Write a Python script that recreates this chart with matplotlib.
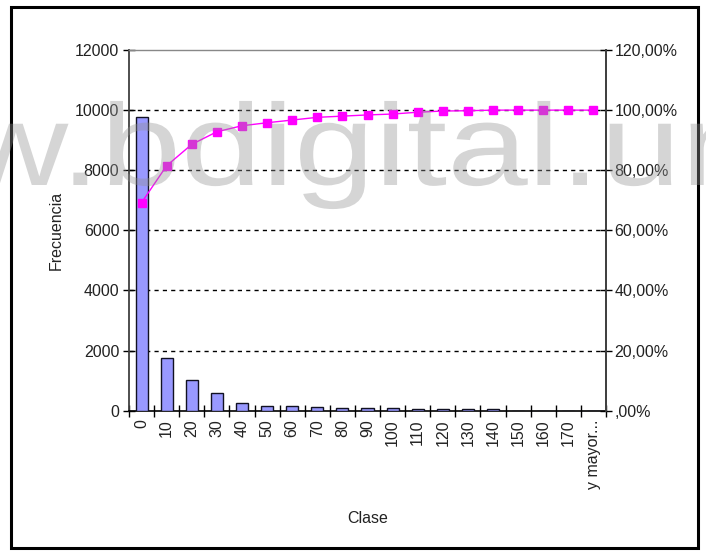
import matplotlib
matplotlib.use('Agg')
import matplotlib.pyplot as plt
import matplotlib.patches as mpatches
from matplotlib.textpath import TextPath
from matplotlib.font_manager import FontProperties
from matplotlib.transforms import Affine2D, IdentityTransform
import numpy as np

plt.rcParams['font.family'] = ['Liberation Sans', 'DejaVu Sans']
plt.rcParams['font.size'] = 11.5

# datos
clases = ['0', '10', '20', '30', '40', '50', '60', '70', '80', '90', '100',
          '110', '120', '130', '140', '150', '160', '170', 'y mayor...']
frecuencia = [9760, 1750, 1010, 580, 250, 170, 170, 110, 90, 90, 90,
              70, 40, 50, 50, 0, 0, 0, 0]
acumulado = [69.2, 81.5, 88.6, 92.8, 94.8, 95.8, 96.7, 97.6, 98.0, 98.4, 98.7,
             99.3, 99.7, 99.8, 100.0, 100.0, 100.0, 100.0, 100.0]
yticks_izq = [0, 2000, 4000, 6000, 8000, 10000, 12000]
yticks_der = [0, 20, 40, 60, 80, 100, 120]
ylabels_der = [',00%', '20,00%', '40,00%', '60,00%', '80,00%', '100,00%', '120,00%']

fig = plt.figure(figsize=(7.06, 5.52), dpi=100)
ax = fig.add_axes([0.1827, 0.256, 0.6757, 0.6534])
x = np.arange(len(clases))

ax.bar(x, frecuencia, width=0.48, color='#9999FF', edgecolor='#111122',
       linewidth=1, zorder=3)
ax.set_xlim(-0.5, len(clases) - 0.5)
ax.set_ylim(0, 12000)
ax.set_yticks(yticks_izq)
ax.set_yticklabels([str(v) for v in yticks_izq], color='#222222')
ax.set_xticks(x)
ax.set_xticklabels(clases, rotation=90, color='#222222')
ax.set_xticks(np.arange(len(clases) + 1) - 0.5, minor=True)
ax.tick_params(axis='x', which='major', length=0, pad=6)
ax.tick_params(axis='x', which='minor', direction='inout', length=9, width=1)
ax.tick_params(axis='y', direction='inout', length=8, width=1, pad=3)
for v in yticks_izq[1:-1]:
    ax.axhline(v, color='black', linestyle=(0, (3, 3)), linewidth=1, zorder=1)

ax.spines['top'].set_color('#888888')
ax.spines['top'].set_linewidth(1)
ax.spines['left'].set_color('#404040')
ax.spines['left'].set_linewidth(1.3)
ax.spines['right'].set_color('#404040')
ax.spines['right'].set_linewidth(1.3)
ax.spines['bottom'].set_color('black')
ax.spines['bottom'].set_linewidth(1.2)

ax.set_ylabel('Frecuencia', labelpad=8, color='#222222')
ax.set_xlabel('Clase', labelpad=16, color='#222222')

ax2 = ax.twinx()
ax2.plot(x, acumulado, color='#FF00FF', linewidth=1, marker='s',
         markersize=5.5, markeredgecolor='#FF00FF', zorder=4)
ax2.set_ylim(0, 120)
ax2.set_yticks(yticks_der)
ax2.set_yticklabels(ylabels_der, color='#222222')
ax2.tick_params(axis='y', direction='inout', length=8, width=1, pad=2)
for s in ['left', 'top', 'bottom']:
    ax2.spines[s].set_visible(False)
ax2.spines['right'].set_color('#404040')
ax2.spines['right'].set_linewidth(1.3)

# marca de agua (ensanchada en horizontal)
tp = TextPath((0, 0), 'www.bdigital.unal.edu.co', size=116,
              prop=FontProperties(family='Liberation Sans'))
tr = Affine2D().scale(1.25, 1.0).translate(-246, 552 - 185) + IdentityTransform()
marca = mpatches.PathPatch(tp, transform=tr, facecolor='#919191',
                           edgecolor='none', alpha=0.38, zorder=10)
fig.patches.append(marca)

# marco exterior
fig.patches.append(mpatches.Rectangle((0.0155, 0.0072), 0.9728, 0.9800,
                                      transform=fig.transFigure, fill=False,
                                      edgecolor='black', linewidth=2.2))

fig.savefig('out.png', dpi=100)
